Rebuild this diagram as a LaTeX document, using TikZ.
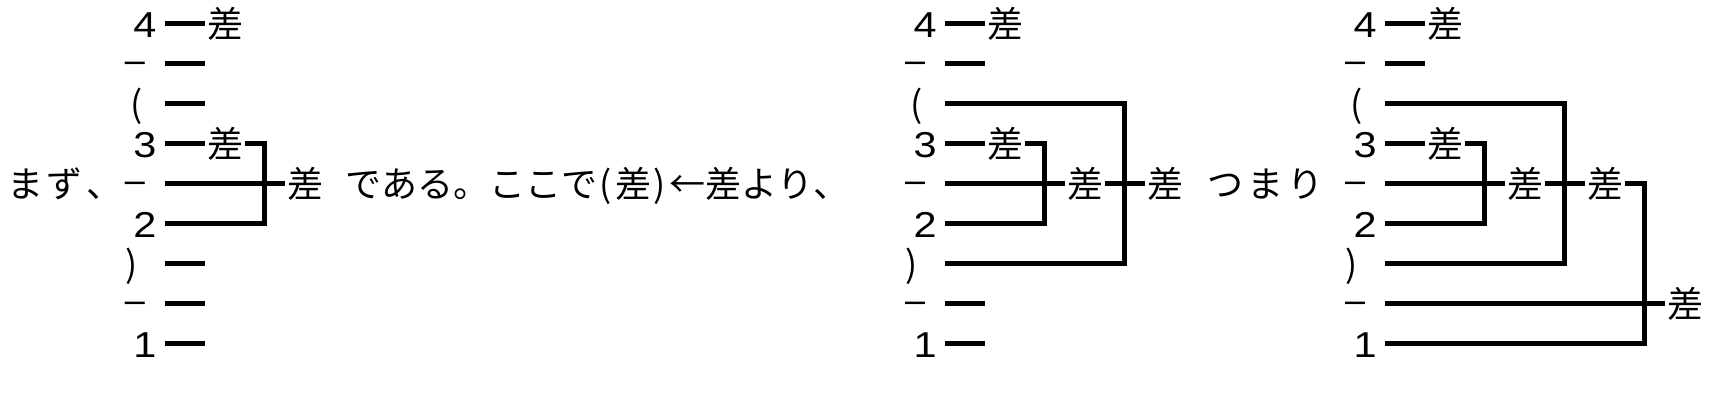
\documentclass[tikz,border=0pt]{standalone}
\usepackage{fontspec}
\setmainfont{Noto Sans CJK JP}
\newfontfamily\digitfont{Liberation Sans}
\newcommand{\hw}[1]{\makebox[18pt]{#1}}
\newcommand{\sw}[1]{\makebox[36pt]{#1}}
\newcommand{\fw}[1]{\makebox[40pt]{#1}}
\newcommand{\dg}[1]{{\digitfont\scalebox{1.15}[1]{#1}}}
\begin{document}
\begin{tikzpicture}[x=1pt,y=-1pt,
  txt/.style={font=\fontsize{36}{40}\selectfont, inner sep=0pt, outer sep=0pt, anchor=base},
  rule/.style={line width=4.6pt, line cap=butt, line join=miter},
  labelcol/.pic={
    \node[txt] (-n4) at (20,37.4) {\dg{4}};
    \node[txt] (-m1) at (10,72.7) {\digitfont –};
    \node[txt] (-lp) at (11.5,117.4) {(};
    \node[txt] (-n3) at (20,157.4) {\dg{3}};
    \node[txt] (-m2) at (10,192.7) {\digitfont –};
    \node[txt] (-n2) at (20,237.4) {\dg{2}};
    \node[txt] (-rp) at (7,277.4) {)};
    \node[txt] (-m3) at (10,312.7) {\digitfont –};
    \node[txt] (-n1) at (20,357.4) {\dg{1}};
    \draw[rule] (40,23.7) -- (80,23.7);
    \node[txt] (-d4) at (100,37.4) {差};
    \draw[rule] (40,63.7) -- (80,63.7);
    \draw[rule] (40,143.7) -- (80,143.7);
    \node[txt] (-d3) at (100,157.4) {差};
  }]
\useasboundingbox (0,0) rectangle (1712,402);

% ---------- diagram 1 ----------
\node[txt, anchor=base west] (intro) at (5,197.4) {\fw{ま}\fw{ず}\fw{、}};
\pic (A) at (125,0) {labelcol};
\draw[rule] (165,103.7) -- (205,103.7);
\draw[rule] (165,263.7) -- (205,263.7);
\draw[rule] (165,303.7) -- (205,303.7);
\draw[rule] (165,343.7) -- (205,343.7);
\draw[rule] (245,143.7) -- (264.5,143.7) -- (264.5,223.7) -- (165,223.7);
\draw[rule] (165,183.7) -- (285,183.7);
\node[txt] (A-d32) at (305,197.4) {差};

\node[txt, anchor=base west] (mid) at (345,197.4)
  {\sw{で}\sw{あ}\sw{る}\sw{。}\sw{こ}\sw{こ}\sw{で}\hw{(}\sw{差}\hw{)}\sw{←}\sw{差}\sw{よ}\sw{り}\sw{、}};

% ---------- diagram 2 ----------
\pic (B) at (905,0) {labelcol};
\draw[rule] (945,103.7) -- (1124.7,103.7) -- (1124.7,263.7) -- (945,263.7);
\draw[rule] (1025,143.7) -- (1044.5,143.7) -- (1044.5,223.7) -- (945,223.7);
\draw[rule] (945,183.7) -- (1065,183.7);
\node[txt] (B-d32) at (1085,197.4) {差};
\draw[rule] (1105,183.7) -- (1145,183.7);
\node[txt] (B-dall) at (1165,197.4) {差};
\draw[rule] (945,303.7) -- (985,303.7);
\draw[rule] (945,343.7) -- (985,343.7);
\node[txt, anchor=base west] (tsumari) at (1205,197.4) {\fw{つ}\fw{ま}\fw{り}};

% ---------- diagram 3 ----------
\pic (C) at (1345,0) {labelcol};
\draw[rule] (1385,103.7) -- (1564.7,103.7) -- (1564.7,263.7) -- (1385,263.7);
\draw[rule] (1465,143.7) -- (1484.5,143.7) -- (1484.5,223.7) -- (1385,223.7);
\draw[rule] (1385,183.7) -- (1505,183.7);
\node[txt] (C-d32) at (1525,197.4) {差};
\draw[rule] (1545,183.7) -- (1585,183.7);
\node[txt] (C-dp) at (1605,197.4) {差};
\draw[rule] (1625,183.7) -- (1644.7,183.7) -- (1644.7,343.7) -- (1385,343.7);
\draw[rule] (1385,303.7) -- (1665,303.7);
\node[txt] (C-dall) at (1685,317.4) {差};
\end{tikzpicture}
\end{document}
